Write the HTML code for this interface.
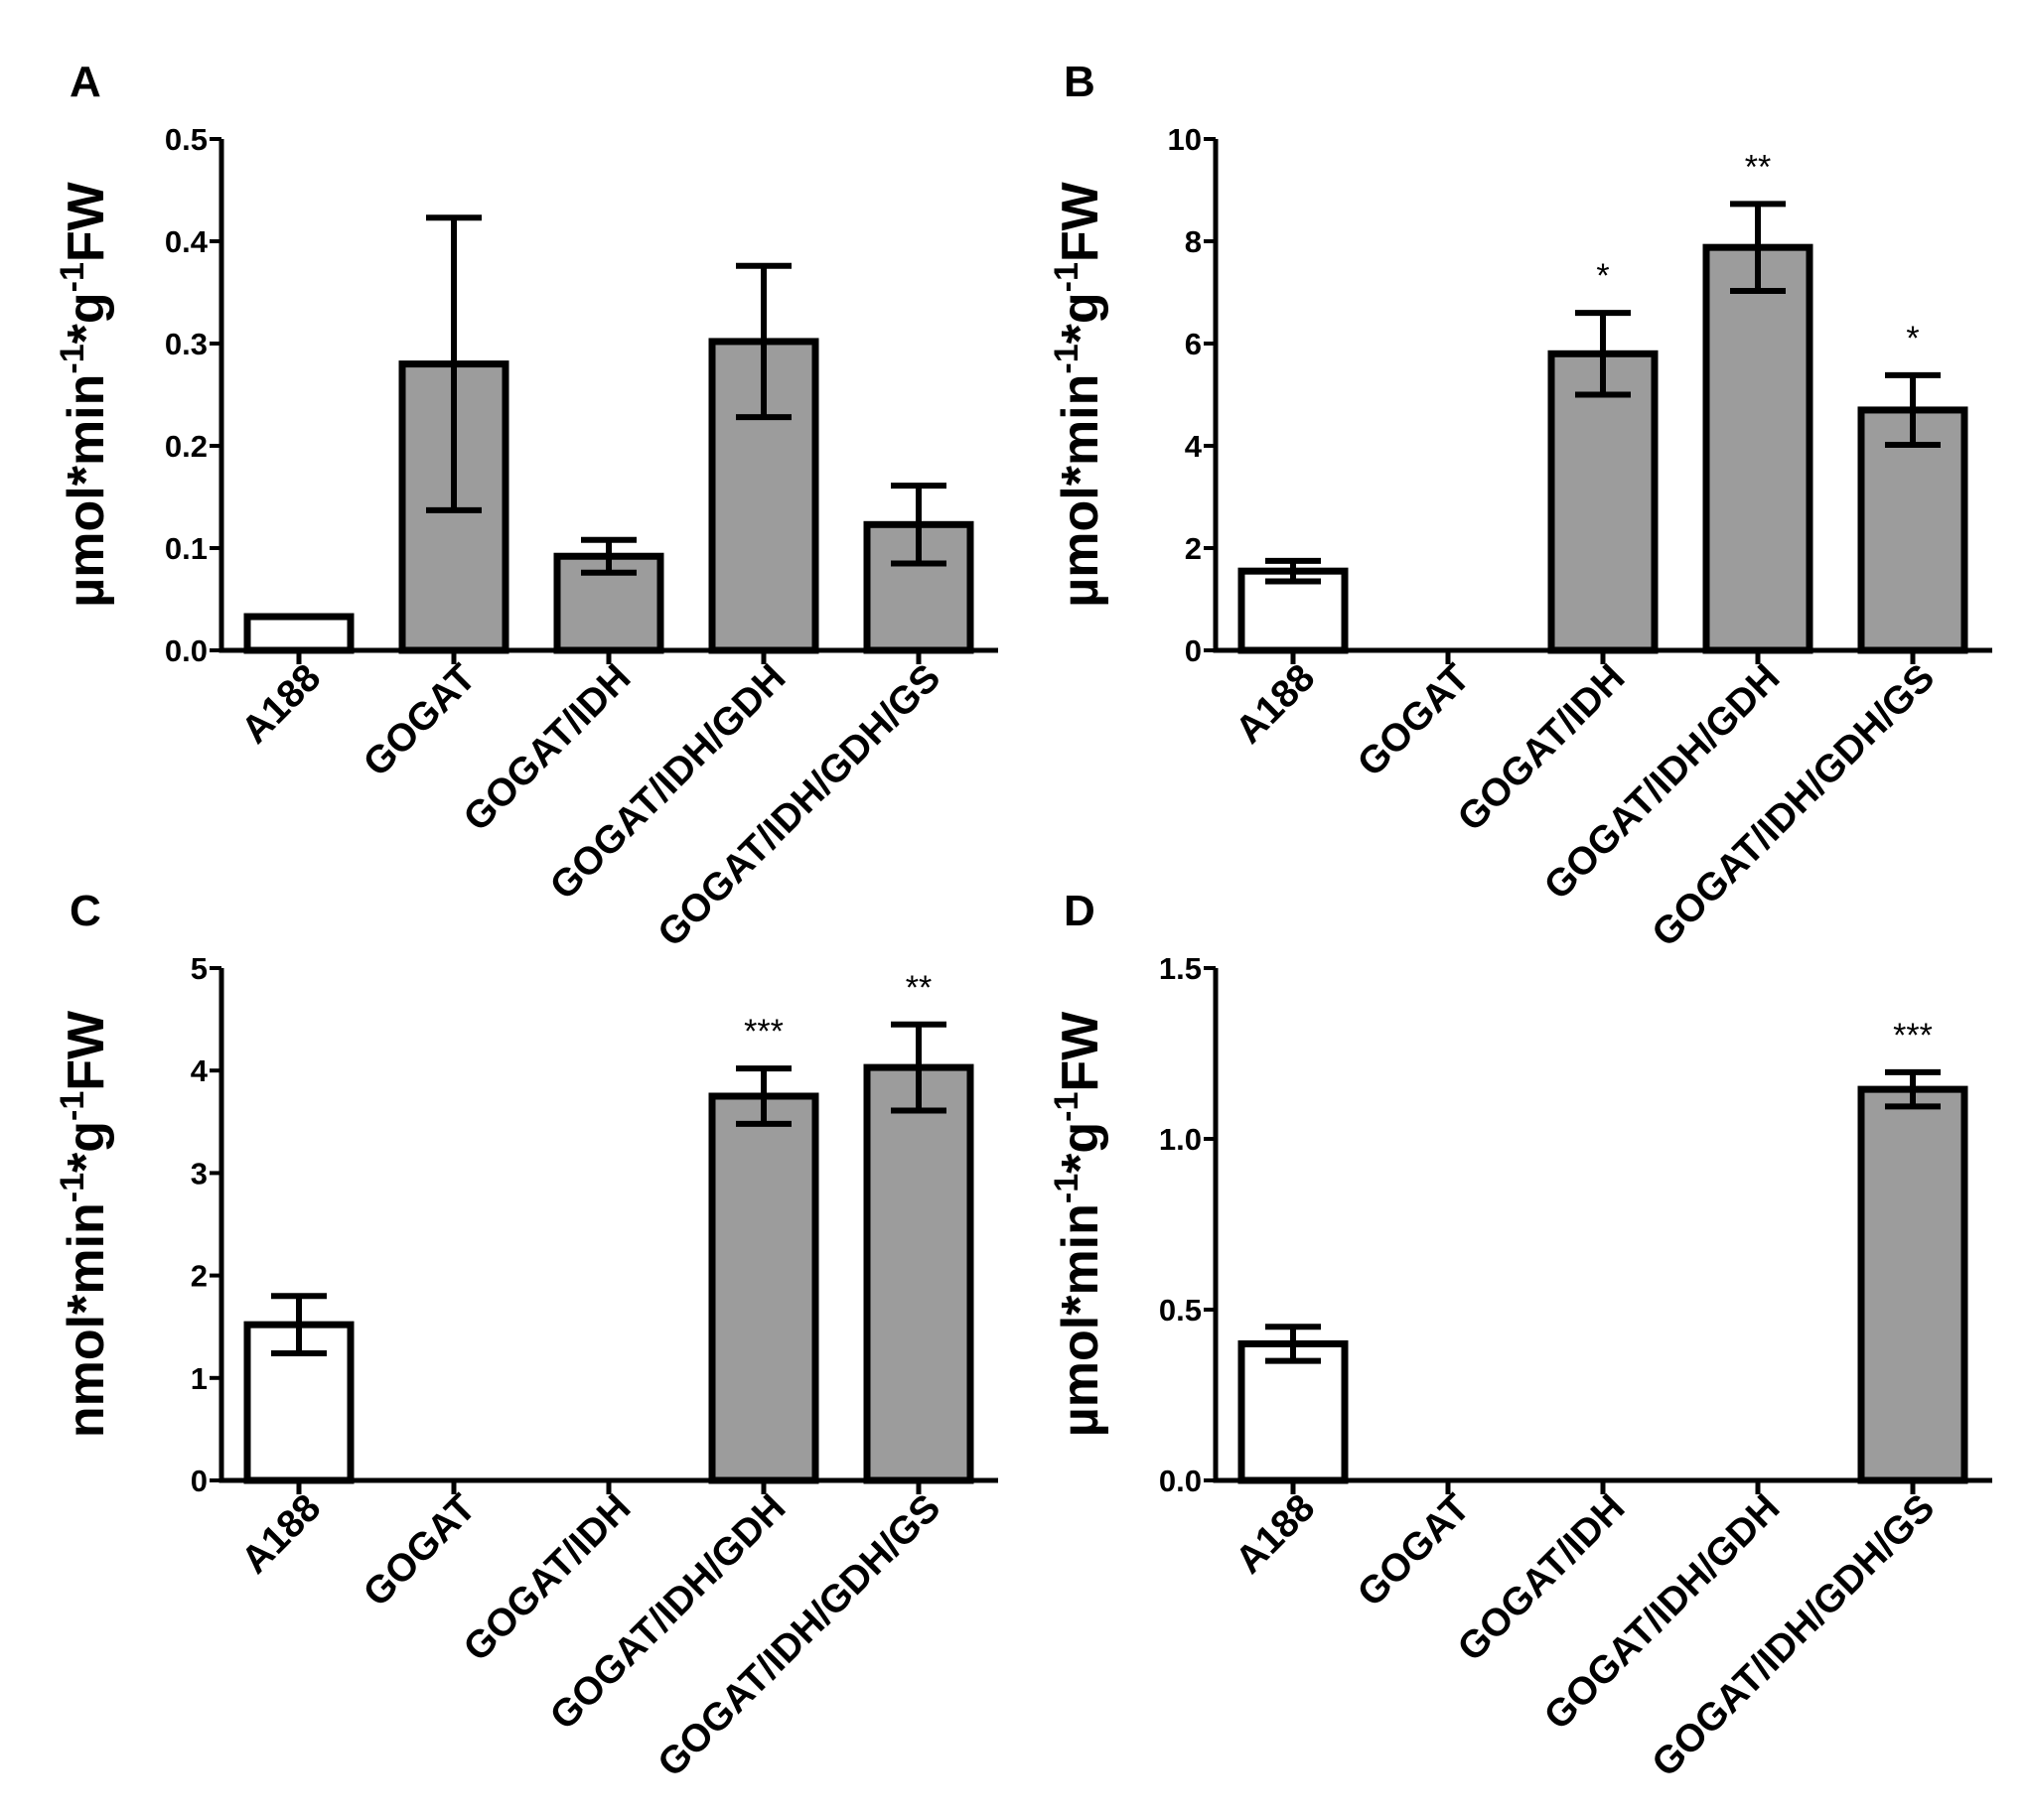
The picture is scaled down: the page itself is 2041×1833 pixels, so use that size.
<!DOCTYPE html>
<html><head><meta charset="utf-8">
<style>
html,body{margin:0;padding:0;background:#fff;}
svg{display:block;font-family:"Liberation Sans",Arial,sans-serif;}
</style></head>
<body>
<svg id="fig" width="2041" height="1833" viewBox="0 0 2041 1833"></svg>
<script>
const categories = ["A188","GOGAT","GOGAT/IDH","GOGAT/IDH/GDH","GOGAT/IDH/GDH/GS"];
const aValues = [0.033, 0.28, 0.092, 0.302, 0.123];
const aErrors = [0, 0.143, 0.016, 0.074, 0.038];
const aStars = ["","","","",""];
const aTicks = ["0.0","0.1","0.2","0.3","0.4","0.5"];
const bValues = [1.55, 0, 5.8, 7.88, 4.7];
const bErrors = [0.2, 0, 0.8, 0.85, 0.68];
const bStars = ["","","*","**","*"];
const bTicks = ["0","2","4","6","8","10"];
const cValues = [1.52, 0, 0, 3.75, 4.03];
const cErrors = [0.28, 0, 0, 0.27, 0.42];
const cStars = ["","","","***","**"];
const cTicks = ["0","1","2","3","4","5"];
const dValues = [0.40, 0, 0, 0, 1.145];
const dErrors = [0.05, 0, 0, 0, 0.05];
const dStars = ["","","","","***"];
const dTicks = ["0.0","0.5","1.0","1.5"];

const NS="http://www.w3.org/2000/svg";
const svg=document.getElementById('fig');
function mk(tag,attrs,parent,text){const e=document.createElementNS(NS,tag);for(const k in attrs)e.setAttribute(k,attrs[k]);if(text!==undefined)e.textContent=text;(parent||svg).appendChild(e);return e;}

function panel(id,letter,ox,y0,ytop,values,errors,stars,ticks,unit){
  const g=mk('g',{});
  
  
  const tmax=parseFloat(ticks[ticks.length-1]);
  const ys=v=>y0-(v/tmax)*(y0-ytop);
  const xs=i=>ox+78+i*156;
  const L=mk('text',{x:ox-153,y:ytop-43,'font-size':44,'font-weight':'bold'},g,letter);
  
  
  const t=mk('text',{transform:`translate(${ox-119},${(y0+ytop)/2}) rotate(-90)`,'text-anchor':'middle','font-size':52,'font-weight':'bold'},g);
  
  
  mk('tspan',{},t,unit+'mol*min');
  mk('tspan',{dy:-20,'font-size':34},t,'-1');
  mk('tspan',{dy:20},t,'*g');
  mk('tspan',{dy:-20,'font-size':34},t,'-1');
  mk('tspan',{dy:20},t,'FW');
  values.forEach((v,i)=>{
    const cx=xs(i);
    if(v>0){
      const r=mk('rect',{x:cx-52,y:ys(v),width:104,height:y0-ys(v),fill:i===0?'#fff':'#9c9c9c',stroke:'#000','stroke-width':7},g);
      
      
    }
    if(errors[i]>0){
      const eg=mk('g',{stroke:'#000','stroke-width':6},g);
      
      
      const hi=ys(v+errors[i]),lo=ys(v-errors[i]);
      mk('line',{x1:cx,x2:cx,y1:hi,y2:lo},eg);
      mk('line',{x1:cx-28,x2:cx+28,y1:hi,y2:hi},eg);
      mk('line',{x1:cx-28,x2:cx+28,y1:lo,y2:lo},eg);
      if(stars[i]){
        const s=mk('text',{x:cx,y:hi-26,'text-anchor':'middle','font-size':34},g,stars[i]);
        
        
      }
    }
    const tk=mk('line',{x1:cx,x2:cx,y1:y0,y2:y0+14,stroke:'#000','stroke-width':5},g);
    
    
    const lb=mk('text',{transform:`translate(${cx+24},${y0+30}) rotate(-45)`,'text-anchor':'end','font-size':39,'font-weight':'bold'},g,categories[i]);
    
    
  });
  const ax=mk('path',{d:`M${ox},${ytop} L${ox},${y0} L${ox+782},${y0}`,fill:'none',stroke:'#000','stroke-width':5},g);
  
  
  ticks.forEach(tv=>{
    const y=ys(parseFloat(tv));
    mk('line',{x1:ox-12,x2:ox,y1:y,y2:y,stroke:'#000','stroke-width':4},g);
    const tl=mk('text',{x:ox-14,y:y+11,'text-anchor':'end','font-size':31,'font-weight':'bold'},g,tv);
    
    
  });
}
panel('a','A',223,655,140,aValues,aErrors,aStars,aTicks,'\u00b5');
panel('b','B',1224,655,140,bValues,bErrors,bStars,bTicks,'\u00b5');
panel('c','C',223,1491,975,cValues,cErrors,cStars,cTicks,'n');
panel('d','D',1224,1491,975,dValues,dErrors,dStars,dTicks,'\u00b5');
</script>
</body></html>
